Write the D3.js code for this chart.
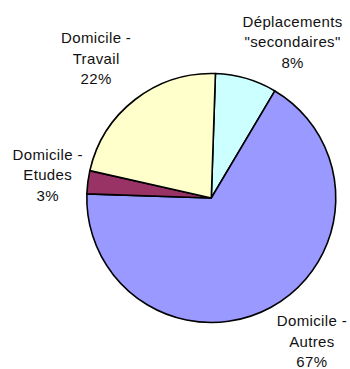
<!DOCTYPE html>
<html>
<head>
<meta charset="utf-8">
<script src="https://cdn.jsdelivr.net/npm/d3@7"></script>
<style>
  html, body { margin: 0; padding: 0; background: #fff; }
  svg { display: block; }
  text { font-family: Arial, "Liberation Sans", sans-serif; font-size: 15px; letter-spacing: 0.35px; fill: #111; }
</style>
</head>
<body>
<svg id="chart" width="350" height="369"></svg>
<script>
// Trip purposes, in drawing order (clockwise from the top)
const categories = [
  ["Déplacements", "\"secondaires\""],
  ["Domicile -", "Autres"],
  ["Domicile -", "Etudes"],
  ["Domicile -", "Travail"]
];
const shares = [8, 67, 3, 22];
const percentLabels = ["8%", "67%", "3%", "22%"];
const sliceColors = ["#CCFFFF", "#9999FF", "#993366", "#FFFFCC"];

// Layout
const width = 350, height = 369;
const cx = 211.3, cy = 198, radius = 124.5;
const startAngle = 1.9 * Math.PI / 180;
const labelRadius = 172;
const lineHeight = 20.5;
// small shifts so each label block sits clear of the pie rim
const labelShift = [[33, 9], [18, -7.5], [7, -1.5], [-10, -3.5]];

const svg = d3.select("#chart");
const g = svg.append("g").attr("transform", `translate(${cx},${cy})`);

const pie = d3.pie()
  .sort(null)
  .value(d => d)
  .startAngle(startAngle)
  .endAngle(startAngle + 2 * Math.PI);

const arc = d3.arc().innerRadius(0).outerRadius(radius);
const arcs = pie(shares);

g.selectAll("path.slice")
  .data(arcs)
  .join("path")
  .attr("class", "slice")
  .attr("d", arc)
  .attr("fill", (d, i) => sliceColors[i])
  .attr("stroke", "#000")
  .attr("stroke-width", 1.6)
  .attr("stroke-linejoin", "round");

// Labels: category name lines followed by the percentage
const labels = g.selectAll("text.label")
  .data(arcs)
  .join("text")
  .attr("class", "label")
  .attr("text-anchor", "middle")
  .attr("transform", (d, i) => {
    const a = (d.startAngle + d.endAngle) / 2;
    const x = labelRadius * Math.sin(a) + labelShift[i][0];
    const y = -labelRadius * Math.cos(a) + labelShift[i][1];
    return `translate(${x},${y})`;
  });

labels.each(function(d, i) {
  const lines = categories[i].concat([percentLabels[i]]);
  const t = d3.select(this);
  lines.forEach((line, k) => {
    t.append("tspan")
      .attr("x", 0)
      .attr("y", (k - 1) * lineHeight + 5.5)
      .text(line);
  });
});
</script>
</body>
</html>
